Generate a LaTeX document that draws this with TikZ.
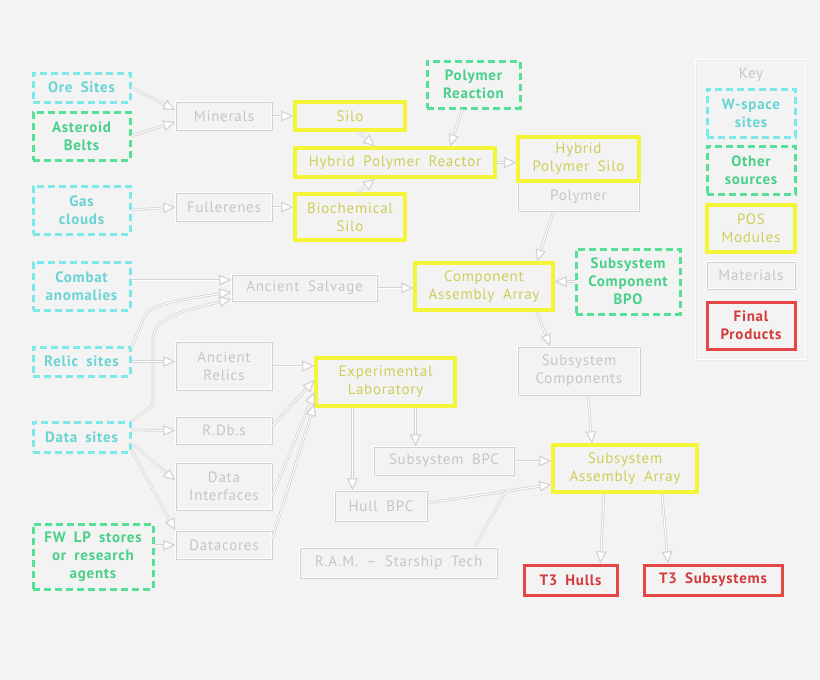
\documentclass[tikz,border=0pt]{standalone}
\usepackage{fontspec}
\setmainfont{PT Sans}[LetterSpace=5,WordSpace=1.8]
\usetikzlibrary{arrows.meta,calc}
\definecolor{bgc}{RGB}{243,243,243}
\definecolor{wcyan}{RGB}{125,232,232}
\definecolor{wcyantext}{RGB}{105,212,212}
\definecolor{ogreen}{RGB}{85,225,150}
\definecolor{ogreentext}{RGB}{72,208,138}
\definecolor{posyellow}{RGB}{245,245,55}
\definecolor{posyellowtext}{RGB}{206,206,90}
\definecolor{matgray}{RGB}{198,198,198}
\definecolor{linkgray}{RGB}{212,212,212}
\definecolor{finalred}{RGB}{228,70,70}
\definecolor{finalredtext}{RGB}{212,58,58}

\begin{document}
\begin{tikzpicture}[x=1pt,y=-1pt,
    every node/.style={font=\fontsize{15}{18}\selectfont, align=center, inner sep=0pt},
    wsite/.style={draw=wcyan, text=wcyantext, dash pattern=on 7pt off 4pt, line width=3pt,
        font=\fontsize{15}{18}\selectfont\bfseries},
    other/.style={draw=ogreen, text=ogreentext, dash pattern=on 7pt off 4pt, line width=3pt,
        font=\fontsize{15}{18}\selectfont\bfseries},
    posmod/.style={draw=posyellow, text=posyellowtext, line width=3.2pt},
    mat/.style={draw=white, double=matgray!80, double distance=0.5pt, line width=1.2pt, text=matgray},
    final/.style={draw=finalred, text=finalredtext, line width=3pt,
        font=\fontsize{15}{18}\selectfont\bfseries},
    wire/.style={draw=white, line width=1pt, preaction={draw=linkgray, line width=2.6pt}},
    link/.style={wire, -{Triangle[length=12pt,width=10pt,fill=white,color=linkgray]}}]

    % Background
    \fill[bgc] (0,0) rectangle (820,680);
    \useasboundingbox (0,0) rectangle (820,680);

    % Sources
    \node[wsite, minimum width=97pt, minimum height=29pt] (ore) at (81.5,87.5) {Ore Sites};
    \node[other, minimum width=97pt, minimum height=48pt] (asteroid) at (81.5,136) {Asteroid\\Belts};
    \node[wsite, minimum width=97pt, minimum height=48pt] (gas) at (81.5,210) {Gas\\clouds};
    \node[wsite, minimum width=97pt, minimum height=48pt] (combat) at (81.5,286) {Combat\\anomalies};
    \node[wsite, minimum width=97pt, minimum height=29pt] (relic) at (81.5,361.5) {Relic sites};
    \node[wsite, minimum width=97pt, minimum height=30pt] (data) at (81.5,437) {Data sites};
    \node[other, minimum width=120pt, minimum height=65pt] (fwlp) at (93,556.5) {FW LP stores\\or research\\agents};
    \node[other, minimum width=93pt, minimum height=47pt] (polyreact) at (473.5,84.5) {Polymer\\Reaction};
    \node[other, minimum width=104pt, minimum height=65pt] (scbpo) at (628,281.5) {Subsystem\\Component\\BPO};

    % Materials
    \node[mat, minimum width=96pt, minimum height=28pt] (minerals) at (224,116) {Minerals};
    \node[mat, minimum width=96pt, minimum height=28pt] (fullerenes) at (224,207) {Fullerenes};
    \node[mat, minimum width=145pt, minimum height=26pt] (salvage) at (304.5,288) {Ancient Salvage};
    \node[mat, minimum width=96pt, minimum height=48pt] (relics) at (224,366) {Ancient\\Relics};
    \node[mat, minimum width=96pt, minimum height=27pt] (rdbs) at (224,430.5) {R.Db.s};
    \node[mat, minimum width=96pt, minimum height=47pt] (interfaces) at (224,486.5) {Data\\Interfaces};
    \node[mat, minimum width=96pt, minimum height=28pt] (datacores) at (224,545) {Datacores};
    \node[mat, minimum width=121pt, minimum height=29pt] (polymer) at (578.5,196.5) {Polymer};
    \node[mat, minimum width=122pt, minimum height=48pt] (subcomp) at (579,371) {Subsystem\\Components};
    \node[mat, minimum width=140pt, minimum height=28pt] (subbpc) at (444,461) {Subsystem BPC};
    \node[mat, minimum width=92pt, minimum height=30pt] (hullbpc) at (381,506) {Hull BPC};
    \node[mat, minimum width=197pt, minimum height=30pt] (ram) at (398.5,563) {R.A.M. -- Starship Tech};

    % POS modules
    \node[posmod, minimum width=110pt, minimum height=28pt] (silo) at (350,116) {Silo};
    \node[posmod, minimum width=200pt, minimum height=29pt] (reactor) at (395,162.5) {Hybrid Polymer Reactor};
    \node[posmod, minimum width=110pt, minimum height=46pt] (biosilo) at (350,217) {Biochemical\\Silo};
    \node[posmod, minimum width=121pt, minimum height=44pt] (hpsilo) at (578.5,159) {Hybrid\\Polymer Silo};
    \node[posmod, minimum width=138pt, minimum height=47pt] (caa) at (484,286.5) {Component\\Assembly Array};
    \node[posmod, minimum width=139pt, minimum height=48pt] (lab) at (385.5,382) {Experimental\\Laboratory};
    \node[posmod, minimum width=144pt, minimum height=47pt] (saa) at (625,468.5) {Subsystem\\Assembly Array};

    % Final products
    \node[final, minimum width=93pt, minimum height=30pt] (t3hulls) at (570.5,580) {T3 Hulls};
    \node[final, minimum width=138pt, minimum height=30pt] (t3subs) at (713,580) {T3 Subsystems};

    % Arrows
    \draw[link] (ore.east) -- ([yshift=6pt]minerals.west);
    \draw[link] (asteroid.east) -- ([yshift=-6pt]minerals.west);
    \draw[link] (minerals.east) -- (silo.west);
    \draw[link] (gas.east) -- (fullerenes.west);
    \draw[link] (fullerenes.east) -- (fullerenes.east -| biosilo.west);
    \draw[link] ([xshift=8pt]silo.south) -- ([xshift=-20pt]reactor.north);
    \draw[link] ([xshift=8pt]biosilo.north) -- ([xshift=-20pt]reactor.south);
    \draw[link] ([xshift=-11pt]polyreact.south) -- ([xshift=55pt]reactor.north);
    \draw[link] (reactor.east) -- (reactor.east -| hpsilo.west);
    \draw[link] ([xshift=-25pt]polymer.south) -- ([xshift=53pt]caa.north);
    \draw[link] ([yshift=6pt]combat.east) -- ([yshift=8pt]salvage.west);
    \draw[link] ([yshift=-2pt]relic.north east) -- (142,322)
        .. controls (146,306) and (165,302) .. ([yshift=-4pt]salvage.west);
    \draw[link] ([yshift=-1pt]data.north east) -- (153,405) -- (153,340)
        .. controls (153,318) and (178,312) .. ([yshift=-11pt]salvage.west);
    \draw[link] (salvage.east) -- (salvage.east -| caa.west);
    \draw[link] (scbpo.west) -- (scbpo.west -| caa.east);
    \draw[link] ([xshift=53pt]caa.south) -- ([xshift=-29pt]subcomp.north);
    \draw[link] (relic.east) -- (relic.east -| relics.west);
    \draw[link] (relics.east) -- (relics.east -| lab.west);
    \draw[link] ([yshift=7pt]data.east) -- (rdbs.west);
    \draw[link] ([yshift=-6pt]data.east) -- ([yshift=6pt]interfaces.west);
    \draw[link] ([yshift=-13pt]data.east) -- (datacores.north west);
    \draw[link] (datacores.west -| fwlp.east) -- (datacores.west);
    \draw[link] ([yshift=5pt]rdbs.east) -- ([yshift=2pt]lab.west);
    \draw[link] ([yshift=-9pt]interfaces.east) -- ([yshift=-10pt]lab.west);
    \draw[link] ([yshift=7pt]datacores.east) -- ([yshift=-22pt]lab.west);
    \draw[link] ([xshift=-33pt]lab.south) -- ([xshift=-33pt]lab.south |- hullbpc.north);
    \draw[link] ([xshift=30pt]lab.south) -- ([xshift=30pt]lab.south |- subbpc.north);
    \draw[link] ([xshift=9pt]subcomp.south) -- ([xshift=-33pt]saa.north);
    \draw[link] (subbpc.east) -- (subbpc.east -| saa.west);
    \draw[link] ([yshift=3pt]hullbpc.east) -- ([yshift=-16pt]saa.west);
    \coordinate (merge) at ($([yshift=3pt]hullbpc.east)!0.63!([yshift=-16pt]saa.west)$);
    \draw[wire] ([xshift=76pt]ram.north) -- (merge);
    \draw[link] ([xshift=-21pt]saa.south) -- ([xshift=30pt]t3hulls.north);
    \draw[link] ([xshift=37pt]saa.south) -- ([xshift=-45pt]t3subs.north);

    % Key
    \draw[white, double=black!8, line width=1pt] (696,60) rectangle (806,360);
    \node[text=matgray] (keytitle) at (751,75) {Key};
    \node[wsite, minimum width=88pt, minimum height=48pt] (keyw) at (751,113) {W-space\\sites};
    \node[other, minimum width=88pt, minimum height=48pt] (keyo) at (751,170) {Other\\sources};
    \node[posmod, minimum width=88pt, minimum height=47pt] (keyp) at (751,228.5) {POS\\Modules};
    \node[mat, minimum width=88pt, minimum height=27pt] (keym) at (751,275.5) {Materials};
    \node[final, minimum width=88pt, minimum height=47pt] (keyf) at (751,325.5) {Final\\Products};
\end{tikzpicture}
\end{document}
